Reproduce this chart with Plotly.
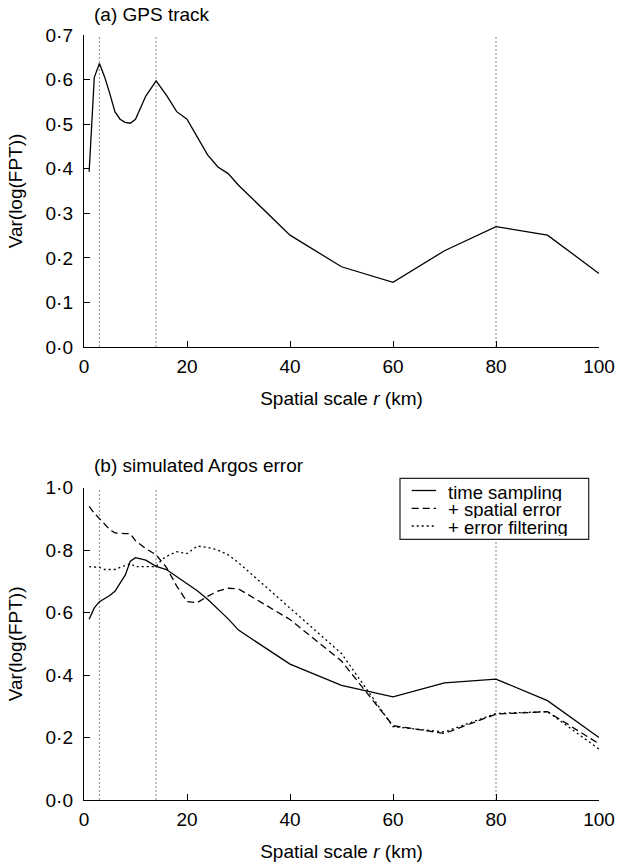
import plotly.graph_objects as go

# ---------------- data ----------------
# (a) GPS track
r_a = [1, 2, 3, 4, 5, 6, 7, 8, 9, 10, 12, 14, 16, 18, 20, 22, 24, 26, 28, 30, 40, 50, 60, 70, 80, 90, 100]
var_gps = [0.393, 0.605, 0.636, 0.606, 0.569, 0.528, 0.511, 0.504, 0.502, 0.511, 0.563, 0.597, 0.565,
           0.528, 0.511, 0.470, 0.431, 0.404, 0.389, 0.363, 0.251, 0.180, 0.145, 0.216, 0.270, 0.251, 0.165]

# (b) simulated Argos error
r_b = [1, 2, 3, 4, 5, 6, 7, 8, 9, 10, 12, 14, 16, 18, 20, 22, 24, 26, 28, 30, 40, 50, 60, 70, 80, 90, 100]
var_time_sampling = [0.579, 0.615, 0.635, 0.645, 0.655, 0.668, 0.695, 0.720, 0.765, 0.776, 0.768, 0.748, 0.738,
                     0.716, 0.692, 0.670, 0.643, 0.613, 0.580, 0.544, 0.435, 0.367, 0.330, 0.375, 0.387, 0.318, 0.200]
var_spatial_error = [0.940, 0.918, 0.901, 0.882, 0.866, 0.855, 0.853, 0.853, 0.853, 0.830, 0.805, 0.785, 0.745,
                     0.685, 0.635, 0.632, 0.652, 0.669, 0.678, 0.676, 0.578, 0.445, 0.238, 0.213, 0.275, 0.283, 0.180]
r_c = [1, 2, 3, 4, 5, 6, 7, 8, 9, 10, 12, 14, 15, 16, 18, 20, 22, 24, 26, 28, 30, 40, 50, 60, 70, 80, 90, 100]
var_error_filtering = [0.747, 0.747, 0.745, 0.738, 0.737, 0.738, 0.745, 0.752, 0.757, 0.747, 0.747, 0.747, 0.768,
                       0.780, 0.795, 0.789, 0.813, 0.809, 0.800, 0.785, 0.760, 0.615, 0.469, 0.235, 0.218, 0.277,
                       0.283, 0.163]

ref_scales = [3, 14, 80]
x_ticks = [0, 20, 40, 60, 80, 100]
y_ticks_a = [0.0, 0.1, 0.2, 0.3, 0.4, 0.5, 0.6, 0.7]
y_ticks_b = [0.0, 0.2, 0.4, 0.6, 0.8, 1.0]
series_names = ["time sampling", "+ spatial error", "+ error filtering"]
panel_titles = ["(a) GPS track", "(b) simulated Argos error"]

# ---------------- figure ----------------
FONT = "Liberation Sans, Arial, Helvetica, sans-serif"
FS = 19
W, H = 617, 865
ML, MR, MT, MB = 84, 18, 35, 65
PW, PH = W - ML - MR, H - MT - MB


def py(pix):  # pixel row -> paper y
    return (H - MB - pix) / PH


def px(pix):  # pixel column -> paper x
    return (pix - ML) / PW


dash_styles = ["solid", "7px,4px", "2px,3px"]

fig = go.Figure()
fig.add_trace(go.Scatter(x=r_a, y=var_gps, mode="lines", line=dict(color="black", width=1.3),
                         xaxis="x", yaxis="y", showlegend=False, name="GPS track"))
fig.add_trace(go.Scatter(x=r_b, y=var_time_sampling, mode="lines", name=series_names[0],
                         line=dict(color="black", width=1.3, dash=dash_styles[0]),
                         xaxis="x2", yaxis="y2", showlegend=False))
fig.add_trace(go.Scatter(x=r_b, y=var_spatial_error, mode="lines", name=series_names[1],
                         line=dict(color="black", width=1.3, dash=dash_styles[1]),
                         xaxis="x2", yaxis="y2", showlegend=False))
fig.add_trace(go.Scatter(x=r_c, y=var_error_filtering, mode="lines", name=series_names[2],
                         line=dict(color="black", width=1.3, dash=dash_styles[2]),
                         xaxis="x2", yaxis="y2", showlegend=False))


def dotify(v):
    return f"{v:.1f}".replace(".", "\u00b7")


axis_common = dict(
    showline=True, linecolor="black", linewidth=1.2, mirror=False,
    ticks="inside", ticklen=6, tickwidth=1, tickcolor="black",
    showgrid=False, zeroline=False,
    tickfont=dict(family=FONT, size=FS, color="black"),
)

xa = dict(axis_common, range=[0, 100], tickvals=x_ticks, ticklabelstandoff=2,
          title=dict(text="Spatial scale <i>r</i> (km)", font=dict(family=FONT, size=FS, color="black"),
                     standoff=15))

dom_a = [py(347), 1.0]
dom_b = [0.0, py(487.7)]

fig.update_layout(
    width=W, height=H,
    margin=dict(l=ML, r=MR, t=MT, b=MB, autoexpand=False),
    paper_bgcolor="white", plot_bgcolor="white",
    font=dict(family=FONT, size=FS, color="black"),
    xaxis=dict(xa, anchor="y", domain=[0, 1]),
    yaxis=dict(axis_common, anchor="x", domain=dom_a, range=[0, 0.7],
               tickvals=y_ticks_a, ticktext=[dotify(v) for v in y_ticks_a], ticklabelstandoff=6,
               title=dict(text="Var(log(FPT))", font=dict(family=FONT, size=FS, color="black"), standoff=17)),
    xaxis2=dict(xa, anchor="y2", domain=[0, 1]),
    yaxis2=dict(axis_common, anchor="x2", domain=dom_b, range=[0, 1.0],
                tickvals=y_ticks_b, ticktext=[dotify(v) for v in y_ticks_b], ticklabelstandoff=6,
                title=dict(text="Var(log(FPT))", font=dict(family=FONT, size=FS, color="black"), standoff=17)),
    showlegend=False,
)

shapes = []
for xr, yr, top in [("x", "y", 0.7), ("x2", "y2", 1.0)]:
    for s in ref_scales:
        shapes.append(dict(type="line", xref=xr, yref=yr, x0=s, x1=s, y0=0, y1=top, layer="below",
                           line=dict(color="#9a9a9a", width=1.2, dash="2px,2px")))

# manual legend box (panel b)
shapes.append(dict(type="rect", xref="paper", yref="paper", x0=px(400), x1=px(588.7), y0=py(539.3), y1=py(478.3),
                   fillcolor="white", line=dict(color="#222222", width=1.2), layer="above"))
rows = [490.5, 508.3, 526.0]
annotations = []
for name, dsh, row in zip(series_names, dash_styles, rows):
    shapes.append(dict(type="line", xref="paper", yref="paper", x0=px(411.7), x1=px(436), y0=py(row), y1=py(row),
                       line=dict(color="black", width=1.3, dash=dsh), layer="above"))
    annotations.append(dict(text=name, xref="paper", yref="paper", x=px(446), y=py(row + 1.5),
                            xanchor="left", yanchor="middle", showarrow=False, height=17, valign="middle",
                            font=dict(family=FONT, size=18.5, color="black")))

for t, yrow in zip(panel_titles, [14, 465.7]):
    annotations.append(dict(text=t, xref="paper", yref="paper", x=px(92), y=py(yrow), xanchor="left",
                            yanchor="middle", showarrow=False, font=dict(family=FONT, size=FS, color="black")))

fig.update_layout(shapes=shapes, annotations=annotations)
fig.write_html("out.html",
               config={"displayModeBar": False, "staticPlot": True},
               post_script="document.body.style.margin='0';document.body.style.overflow='hidden';")
